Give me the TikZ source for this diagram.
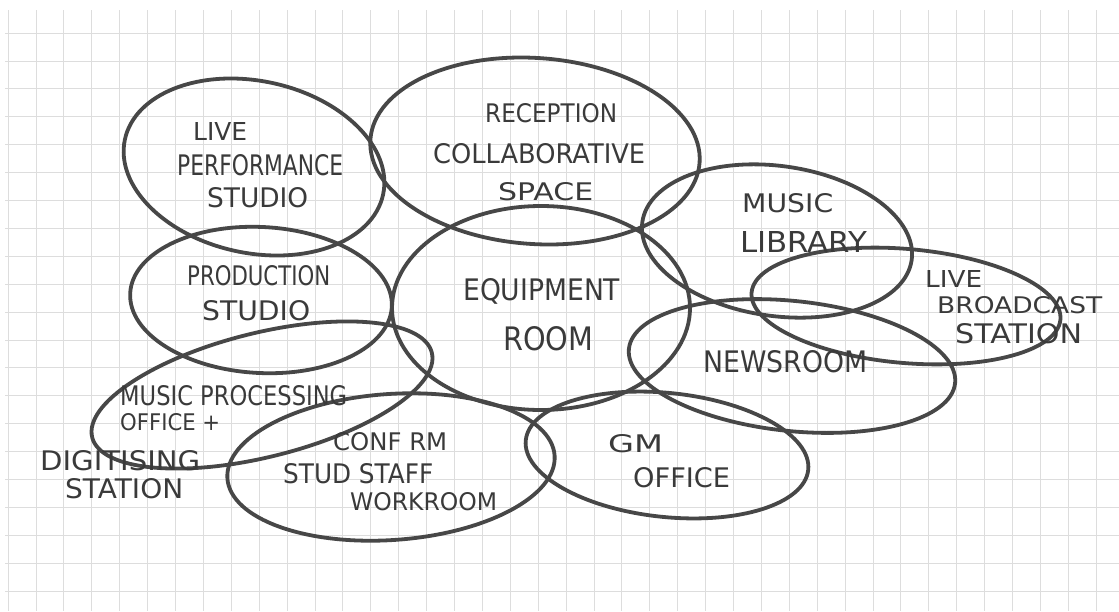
\documentclass[tikz,border=0pt]{standalone}
\usepackage{fontspec}
\setmainfont{DejaVu Sans}
\usepackage{graphicx}
\usetikzlibrary{shapes.geometric}
\definecolor{ink}{HTML}{474747}
\definecolor{txt}{HTML}{3A3A3A}
\definecolor{gridc}{HTML}{DDDDDD}
\newcommand\hw[3]{\resizebox{#1pt}{#2pt}{#3}}
\begin{document}
\begin{tikzpicture}[x=1pt,y=-1pt,
  bubble/.style={draw=ink, line width=3.8pt, ellipse, inner sep=0pt},
  lbl/.style={text=txt, inner sep=0pt, anchor=base west},
  gridline/.style={draw=gridc, line width=0.8pt}]
\useasboundingbox (0,0) rectangle (1119,611);
\fill[white] (0,0) rectangle (1119,611);
% grid paper
\foreach \k in {0,...,39} \draw[gridline] ({8+27.9*\k},10) -- ({8+27.9*\k},611);
\foreach \k in {0,...,20} \draw[gridline] (5,{33+27.9*\k}) -- (1119,{33+27.9*\k});
% bubbles
\node[bubble, minimum width=264pt, minimum height=172pt, rotate=-12] (lps) at (254,167) {};
\node[bubble, minimum width=330pt, minimum height=186pt, rotate=-4] (rcs) at (535,151) {};
\node[bubble, minimum width=272pt, minimum height=150pt, rotate=-8] (mlb) at (777,241) {};
\node[bubble, minimum width=310pt, minimum height=114pt, rotate=-5] (lbs) at (906,306) {};
\node[bubble, minimum width=262pt, minimum height=146pt, rotate=-3] (ps) at (261,300) {};
\node[bubble, minimum width=298pt, minimum height=204pt] (er) at (541,308) {};
\node[bubble, minimum width=328pt, minimum height=130pt, rotate=-6] (nr) at (792,366) {};
\node[bubble, minimum width=350pt, minimum height=124pt, rotate=14] (mpo) at (262,395) {};
\node[bubble, minimum width=328pt, minimum height=146pt, rotate=4] (csw) at (391,467) {};
\node[bubble, minimum width=284pt, minimum height=124pt, rotate=-6] (gm) at (667,455) {};
% labels
\node[lbl] (lps1) at (193,140) {\hw{54}{18}{LIVE}};
\node[lbl] (lps2) at (177,175) {\hw{166}{21}{PERFORMANCE}};
\node[lbl] (lps3) at (207,207) {\hw{101}{20}{STUDIO}};
\node[lbl] (rcs1) at (485,122) {\hw{132}{19}{RECEPTION}};
\node[lbl] (rcs2) at (433,163) {\hw{212}{20}{COLLABORATIVE}};
\node[lbl] (rcs3) at (498,200) {\hw{95}{18}{SPACE}};
\node[lbl] (mlb1) at (742,212) {\hw{91}{19}{MUSIC}};
\node[lbl] (mlb2) at (740,252) {\hw{127}{21}{LIBRARY}};
\node[lbl] (lbs1) at (925,287) {\hw{57}{17}{LIVE}};
\node[lbl] (lbs2) at (937,313) {\hw{165}{17}{BROADCAST}};
\node[lbl] (lbs3) at (955,343) {\hw{127}{20}{STATION}};
\node[lbl] (nr1) at (703,372) {\hw{164}{22}{NEWSROOM}};
\node[lbl] (ps1) at (187,285) {\hw{143}{20}{PRODUCTION}};
\node[lbl] (ps2) at (202,320) {\hw{108}{20}{STUDIO}};
\node[lbl] (er1) at (463,300) {\hw{157}{22}{EQUIPMENT}};
\node[lbl] (er2) at (503,350) {\hw{90}{24}{ROOM}};
\node[lbl] (mpo1) at (120,405) {\hw{227}{20}{MUSIC PROCESSING}};
\node[lbl] (mpo2) at (120,430) {\hw{100}{17}{OFFICE +}};
\node[lbl] (ds1) at (40,470) {\hw{160}{20}{DIGITISING}};
\node[lbl] (ds2) at (65,498) {\hw{118}{20}{STATION}};
\node[lbl] (csw1) at (333,450) {\hw{114}{18}{CONF RM}};
\node[lbl] (csw2) at (283,483) {\hw{150}{20}{STUD STAFF}};
\node[lbl] (csw3) at (350,510) {\hw{147}{18}{WORKROOM}};
\node[lbl] (gm1) at (608,452) {\hw{55}{18}{GM}};
\node[lbl] (gm2) at (633,487) {\hw{97}{20}{OFFICE}};
\end{tikzpicture}
\end{document}
